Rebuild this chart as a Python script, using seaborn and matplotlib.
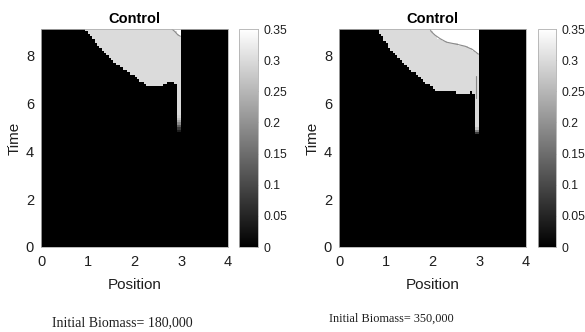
import numpy as np
import pandas as pd
import matplotlib
matplotlib.use("Agg")
import matplotlib.pyplot as plt
from matplotlib.path import Path
import seaborn as sns

# ---------------- data ----------------
pos_max, time_max = 4.0, 9.1
dx, dt = 0.05, 0.1
light_value, white_value = 0.30, 0.35

# Panel 1 (Initial biomass 180,000): outline of the light (0.3) region
p1_light_pos = [0.92, 0.95, 1.26, 1.62, 1.97, 2.26, 2.40, 2.55, 2.68, 2.79, 2.85, 2.88, 2.88, 3.00, 3.00]
p1_light_time = [9.30, 9.05, 8.35, 7.65, 7.17, 6.75, 6.69, 6.73, 6.81, 6.93, 6.93, 6.80, 5.50, 5.50, 9.30]
# small saturated (0.35) corner and its contour
p1_white_pos = [2.80, 2.86, 2.93, 3.00, 3.00]
p1_white_time = [9.30, 9.00, 8.85, 8.80, 9.30]
p1_contour_pos = [2.80, 2.86, 2.93, 2.98]
p1_contour_time = [9.10, 9.00, 8.85, 8.80]
# fading tail at the bottom of the narrow strip (x = 2.9 .. 3.0)
p1_tail_time = [4.85, 4.95, 5.05, 5.15, 5.25, 5.35, 5.45]
p1_tail_value = [0.04, 0.08, 0.13, 0.19, 0.23, 0.27, 0.29]

# Panel 2 (Initial biomass 350,000)
p2_light_pos = [0.80, 0.83, 1.09, 1.45, 1.77, 1.98, 2.05, 2.10, 2.15, 2.20, 2.25, 2.30, 2.35,
                2.40, 2.45, 2.50, 2.60, 2.70, 2.80, 2.87, 2.88, 2.88, 3.00, 3.00]
p2_light_time = [9.30, 9.05, 8.28, 7.55, 7.02, 6.66, 6.56, 6.50, 6.60, 6.45, 6.63, 6.45, 6.60,
                 6.45, 6.56, 6.42, 6.40, 6.38, 6.45, 6.55, 6.30, 5.00, 5.00, 9.30]
p2_white_pos = [1.93, 1.97, 2.05, 2.16, 2.30, 2.50, 2.70, 2.85, 2.95, 3.00, 3.00]
p2_white_time = [9.30, 9.00, 8.85, 8.70, 8.55, 8.47, 8.38, 8.25, 8.10, 8.05, 9.30]
p2_contour_pos = [1.95, 1.97, 2.05, 2.16, 2.30, 2.50, 2.70, 2.85, 2.95, 2.98]
p2_contour_time = [9.10, 9.00, 8.85, 8.70, 8.55, 8.47, 8.38, 8.25, 8.10, 8.05]
p2_strip_line_pos = [2.93, 2.93]
p2_strip_line_time = [6.20, 7.15]
p2_tail_time = [4.75, 4.85, 4.95]
p2_tail_value = [0.08, 0.18, 0.27]

titles = ["Control", "Control"]
captions = ["Initial Biomass= 180,000", "Initial Biomass= 350,000"]
x_ticks = [0, 1, 2, 3, 4]
y_ticks = [0, 2, 4, 6, 8]
cbar_ticks = [0, 0.05, 0.1, 0.15, 0.2, 0.25, 0.3, 0.35]
cbar_labels = ["0", "0.05", "0.1", "0.15", "0.2", "0.25", "0.3", "0.35"]

# ---------------- build grids ----------------
ncol = int(round(pos_max / dx))
nrow = int(round(time_max / dt))
pc = (np.arange(ncol) + 0.5) * dx
tc = (np.arange(nrow) + 0.5) * dt
PP, TT = np.meshgrid(pc, tc)
pts = np.column_stack([PP.ravel(), TT.ravel()])


def build(light_p, light_t, white_p, white_t, tail_t, tail_v):
    Z = np.zeros((nrow, ncol))
    m = Path(np.column_stack([light_p, light_t])).contains_points(pts).reshape(Z.shape)
    Z[m] = light_value
    m = Path(np.column_stack([white_p, white_t])).contains_points(pts).reshape(Z.shape)
    Z[m] = white_value
    strip_cols = (pc > 2.9) & (pc < 3.0)
    for t, v in zip(tail_t, tail_v):
        r = int(np.argmin(np.abs(tc - t)))
        Z[r, strip_cols] = v
    return pd.DataFrame(Z, index=np.round(tc, 2), columns=np.round(pc, 3))


grids = [
    build(p1_light_pos, p1_light_time, p1_white_pos, p1_white_time, p1_tail_time, p1_tail_value),
    build(p2_light_pos, p2_light_time, p2_white_pos, p2_white_time, p2_tail_time, p2_tail_value),
]
contours = [
    [(p1_contour_pos, p1_contour_time)],
    [(p2_contour_pos, p2_contour_time), (p2_strip_line_pos, p2_strip_line_time)],
]

# ---------------- plot ----------------
sns.set_theme(style="white")
plt.rcParams["font.family"] = ["Liberation Sans", "DejaVu Sans"]

W, H = 585, 332
fig = plt.figure(figsize=(W / 100, H / 100), dpi=100)


def fx(px):
    return px / W


def fy(py):
    return 1 - py / H


panels = [
    dict(ax=(41, 29, 228, 247), cb=(239, 258), cap=(122, 323, 10.0)),
    dict(ax=(339, 29, 526, 247), cb=(538, 556), cap=(391, 319, 8.8)),
]
txt = "#1e1e1e"

for i, pn in enumerate(panels):
    x0, y0, x1, y1 = pn["ax"]
    ax = fig.add_axes([fx(x0), fy(y1), fx(x1 - x0), (y1 - y0) / H])
    c0, c1 = pn["cb"]
    cax = fig.add_axes([fx(c0), fy(y1), fx(c1 - c0), (y1 - y0) / H])
    sns.heatmap(grids[i], ax=ax, cbar_ax=cax, cmap="gray", vmin=0, vmax=0.35,
                xticklabels=False, yticklabels=False, linewidths=0, rasterized=True)
    ax.invert_yaxis()
    for cp, ct in contours[i]:
        ax.plot(np.array(cp) / dx, np.array(ct) / dt, color="#8a8a8a", lw=0.8)
    ax.set_xlim(0, ncol)
    ax.set_ylim(0, nrow)
    ax.set_xticks(np.array(x_ticks) / dx)
    ax.set_xticklabels([str(v) for v in x_ticks], rotation=0)
    ax.set_yticks(np.array(y_ticks) / dt)
    ax.set_yticklabels([str(v) for v in y_ticks], rotation=0)
    ax.tick_params(axis="both", length=0, labelsize=10.5, colors=txt)
    ax.tick_params(axis="x", pad=6)
    ax.tick_params(axis="y", pad=5)
    ax.set_xlabel("Position", fontsize=11, labelpad=6, color=txt)
    ax.set_ylabel("Time", fontsize=11, labelpad=3, color=txt)
    ax.set_title(titles[i], fontsize=10.5, fontweight="bold", pad=4, color="black")
    for s in ax.spines.values():
        s.set_visible(True)
        s.set_color("#b0b0b0")
        s.set_linewidth(0.6)

    cbar = ax.collections[0].colorbar
    cbar.set_ticks(cbar_ticks)
    cbar.set_ticklabels(cbar_labels)
    cbar.outline.set_edgecolor("#b0b0b0")
    cbar.outline.set_linewidth(0.6)
    cax.tick_params(axis="y", direction="in", length=2.5, width=0.6, color="#888888",
                    labelsize=8.8, pad=4, right=True, left=False, labelcolor=txt)

    cx, cy, cs = pn["cap"]
    fig.text(fx(cx), fy(cy), captions[i], ha="center", va="center",
             fontsize=cs, family=["Liberation Serif", "DejaVu Serif"], color=txt)

fig.savefig("out.png", dpi=100, facecolor="white")
